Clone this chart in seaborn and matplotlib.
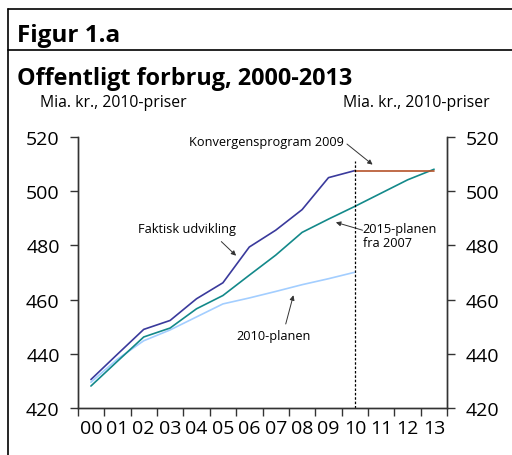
import numpy as np
import pandas as pd
import matplotlib
matplotlib.use('Agg')
import matplotlib.pyplot as plt
from matplotlib.lines import Line2D
import seaborn as sns

sns.set_theme(style="white")
plt.rcParams['font.family'] = ['Open Sans', 'DejaVu Sans']
plt.rcParams['text.color'] = 'black'
plt.rcParams['xtick.color'] = 'black'
plt.rcParams['ytick.color'] = 'black'

# data
years = ['00', '01', '02', '03', '04', '05', '06', '07', '08', '09', '10', '11', '12', '13']
faktisk = [430.5, 439.8, 449.0, 452.3, 460.3, 466.2, 479.4, 485.6, 493.2, 505.0, 507.6]
plan2015 = [428.1, 437.2, 446.2, 449.5, 456.6, 461.5, 469.0, 476.4, 484.8, 489.7, 494.4, 499.3, 504.2, 508.1]
plan2010 = [429.5, 438.0, 444.8, 448.8, 453.6, 458.4, 460.6, 463.0, 465.5, 467.7, 470.1]
konv = [507.6, 507.6, 507.6, 507.6]
konv_years = ['10', '11', '12', '13']

yticks = [420, 440, 460, 480, 500, 520]

pos = {y: i for i, y in enumerate(years)}
df = pd.concat([
    pd.DataFrame({'x': [pos[y] for y in years[:len(faktisk)]], 'v': faktisk, 's': 'Faktisk udvikling'}),
    pd.DataFrame({'x': [pos[y] for y in years], 'v': plan2015, 's': '2015-planen'}),
    pd.DataFrame({'x': [pos[y] for y in years[:len(plan2010)]], 'v': plan2010, 's': '2010-planen'}),
    pd.DataFrame({'x': [pos[y] for y in konv_years], 'v': konv, 's': 'Konvergensprogram 2009'}),
])
colors = {'Faktisk udvikling': '#3a3a9c', '2015-planen': '#13898a',
          '2010-planen': '#a3ceff', 'Konvergensprogram 2009': '#b5532a'}

fig = plt.figure(figsize=(5.12, 4.56), dpi=100)
ax = fig.add_axes([0.1518, 0.1031, 0.7218, 0.5943])

sns.lineplot(data=df, x='x', y='v', hue='s', palette=colors, ax=ax, legend=False,
             linewidth=1.2, hue_order=['2010-planen', '2015-planen', 'Faktisk udvikling', 'Konvergensprogram 2009'])

ax.axvline(pos['10'], ymin=0, ymax=(511 - 420) / 100, color='black', linestyle=(0, (2, 1.5)), linewidth=0.9)

ax.set_xlim(-0.5, len(years) - 0.5)
ax.set_ylim(420, 520)
ax.set_xlabel('')
ax.set_ylabel('')

ax.set_xticks(np.arange(-0.5, len(years), 1.0))
ax.set_xticklabels([])
ax.set_xticks(np.arange(len(years)), minor=True)
ax.set_xticklabels(years, minor=True, fontsize=14)
ax.tick_params(axis='x', which='major', direction='out', length=6, width=1, color='#333333', bottom=True)
ax.tick_params(axis='x', which='minor', length=0, pad=8)

ax.set_yticks(yticks)
ax.set_yticklabels([str(t) for t in yticks], fontsize=14)
ax.tick_params(axis='y', direction='out', length=6, width=1, color='#333333', left=True, pad=7)

ax2 = ax.twinx()
ax2.set_ylim(420, 520)
ax2.set_yticks(yticks)
ax2.set_yticklabels([str(t) for t in yticks], fontsize=14)
ax2.tick_params(axis='y', direction='out', length=6, width=1, color='#333333', right=True, pad=7)

for a in (ax, ax2):
    a.spines['top'].set_visible(False)
    for s in ('left', 'right', 'bottom'):
        a.spines[s].set_color('#333333')
        a.spines[s].set_linewidth(1)

arrow = dict(arrowstyle='-|>', color='#333333', lw=0.7, mutation_scale=7, shrinkA=0, shrinkB=0)
fs = 9.2
ax.text(9.58, 518.5, 'Konvergensprogram 2009', fontsize=fs, ha='right', va='center')
ax.annotate('', xy=(10.67, 509.8), xytext=(9.7, 517.4), arrowprops=arrow)
ax.text(3.65, 486.4, 'Faktisk udvikling', fontsize=fs, ha='center', va='center')
ax.annotate('', xy=(5.5, 476.2), xytext=(4.94, 481.4), arrowprops=arrow)
ax.text(10.3, 483.8, '2015-planen\nfra 2007', fontsize=fs, ha='left', va='center', linespacing=1.1)
ax.annotate('', xy=(9.28, 488.5), xytext=(10.29, 485.6), arrowprops=arrow)
ax.text(6.92, 446.7, '2010-planen', fontsize=fs, ha='center', va='center')
ax.annotate('', xy=(7.67, 461.6), xytext=(7.38, 451.0), arrowprops=arrow)

# frame and headings
H = 456.0
W = 512.0
fig.add_artist(Line2D([8 / W, 8 / W], [0, 1 - 10 / H], color='black', lw=1.2))
fig.add_artist(Line2D([8 / W, 1], [1 - 10 / H, 1 - 10 / H], color='black', lw=1.2))
fig.add_artist(Line2D([8 / W, 1], [1 - 51 / H, 1 - 51 / H], color='black', lw=1.2))
fig.text(17 / W, 1 - 41.7 / H, 'Figur 1.a', fontsize=17.5, fontweight='bold', va='baseline', ha='left')
fig.text(17 / W, 1 - 85 / H, 'Offentligt forbrug, 2000-2013', fontsize=16.8, fontweight='bold',
         va='baseline', ha='left')
fig.text(40 / W, 1 - 107.3 / H, 'Mia. kr., 2010-priser', fontsize=11.3, va='baseline', ha='left')
fig.text(490 / W, 1 - 107.3 / H, 'Mia. kr., 2010-priser', fontsize=11.3, va='baseline', ha='right')

fig.savefig('out.png', dpi=100)
